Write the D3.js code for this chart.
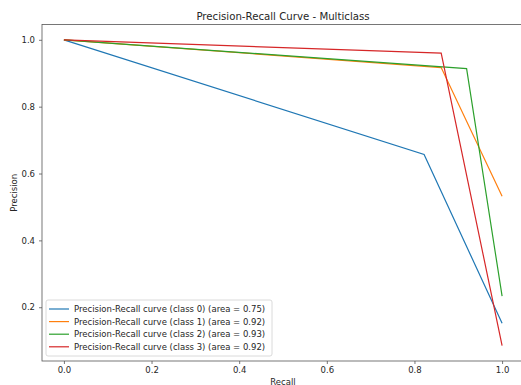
<!DOCTYPE html>
<html>
<head>
<meta charset="utf-8">
<script src="https://cdn.jsdelivr.net/npm/d3@7"></script>
<style>
  body { margin: 0; background: #fff; }
  text { font-family: "DejaVu Sans", sans-serif; fill: #262626; }
</style>
</head>
<body>
<script>
const classNames = ["class 0", "class 1", "class 2", "class 3"];
const areas = [0.75, 0.92, 0.93, 0.92];
const colors = ["#1f77b4", "#ff7f0e", "#2ca02c", "#d62728"];
const recall = [
  [0, 0.822, 1],
  [0, 0.861, 1],
  [0, 0.919, 1],
  [0, 0.861, 1]
];
const precision = [
  [1, 0.657, 0.152],
  [1, 0.917, 0.532],
  [1, 0.914, 0.233],
  [1, 0.960, 0.085]
];
const xTicks = [0, 0.2, 0.4, 0.6, 0.8, 1.0];
const yTicks = [0.2, 0.4, 0.6, 0.8, 1.0];

const width = 521, height = 385;
const plotLeft = 42, plotTop = 24.5, plotRight = 524, plotBottom = 361;
const fontSize = 8.5;

const svg = d3.select("body").append("svg")
  .attr("width", width).attr("height", height);

svg.append("rect").attr("width", width).attr("height", height).attr("fill", "white");

const x = d3.scaleLinear().domain([-0.05, 1.05]).range([plotLeft, plotRight]);
const y = d3.scaleLinear().domain([0.0392, 1.0458]).range([plotBottom, plotTop]);

// axes
const xAxis = svg.append("g")
  .attr("transform", "translate(0," + plotBottom + ")")
  .call(d3.axisBottom(x).tickValues(xTicks).tickFormat(d3.format(".1f")).tickSize(3).tickPadding(3));
const yAxis = svg.append("g")
  .attr("transform", "translate(" + plotLeft + ",0)")
  .call(d3.axisLeft(y).tickValues(yTicks).tickFormat(d3.format(".1f")).tickSize(3).tickPadding(4));

[xAxis, yAxis].forEach(function (g) {
  g.select(".domain").remove();
  g.selectAll(".tick line").attr("stroke", "#555").attr("stroke-width", 0.8);
  g.selectAll(".tick text").attr("font-size", fontSize).attr("fill", "#262626")
    .attr("font-family", "DejaVu Sans");
});

// curves
const line = d3.line()
  .x(function (d) { return x(d[0]); })
  .y(function (d) { return y(d[1]); });

classNames.forEach(function (c, i) {
  const pts = recall[i].map(function (r, j) { return [r, precision[i][j]]; });
  svg.append("path")
    .datum(pts)
    .attr("fill", "none")
    .attr("stroke", colors[i])
    .attr("stroke-width", 1.2)
    .attr("d", line);
});

// spines
svg.append("rect")
  .attr("x", plotLeft).attr("y", plotTop)
  .attr("width", plotRight - plotLeft).attr("height", plotBottom - plotTop)
  .attr("fill", "none").attr("stroke", "#555").attr("stroke-width", 0.8);

// title and labels
svg.append("text")
  .attr("x", (plotLeft + plotRight) / 2).attr("y", 19.5)
  .attr("text-anchor", "middle").attr("font-size", 10.2)
  .text("Precision-Recall Curve - Multiclass");

svg.append("text")
  .attr("x", (plotLeft + plotRight) / 2).attr("y", 385)
  .attr("text-anchor", "middle").attr("font-size", fontSize)
  .text("Recall");

svg.append("text")
  .attr("transform", "translate(17," + ((plotTop + plotBottom) / 2) + ") rotate(-90)")
  .attr("text-anchor", "middle").attr("font-size", fontSize)
  .text("Precision");

// legend
const legend = svg.append("g").attr("transform", "translate(46,300)");
legend.append("rect")
  .attr("width", 226).attr("height", 56).attr("rx", 2)
  .attr("fill", "white").attr("fill-opacity", 0.8)
  .attr("stroke", "#d0d0d0").attr("stroke-width", 0.8);

classNames.forEach(function (c, i) {
  const ry = 9 + i * 12.6;
  legend.append("line")
    .attr("x1", 3).attr("x2", 23).attr("y1", ry).attr("y2", ry)
    .attr("stroke", colors[i]).attr("stroke-width", 1.2);
  legend.append("text")
    .attr("x", 28).attr("y", ry + 3)
    .attr("font-size", fontSize)
    .text("Precision-Recall curve (" + c + ") (area = " + areas[i].toFixed(2) + ")");
});
</script>
</body>
</html>
